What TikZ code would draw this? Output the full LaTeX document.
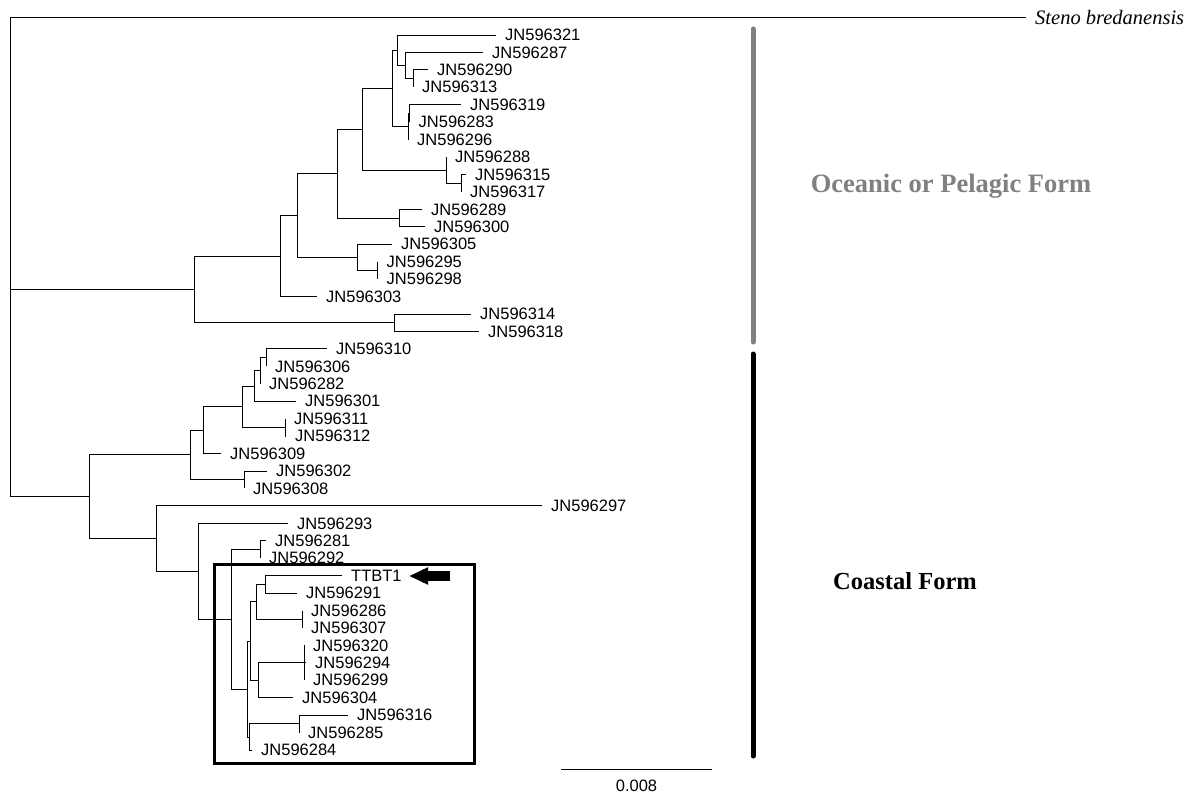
\documentclass[tikz,border=0pt]{standalone}
\usepackage{fontspec}
\setmainfont{Liberation Serif}
\newfontfamily\labelfont{Liberation Sans}
\usetikzlibrary{arrows.meta}

\begin{document}
\begin{tikzpicture}[x=1pt,y=-1pt]
        % Styles
        \tikzstyle{branch}=[line width=0.9pt]
        \tikzstyle{leaf}=[anchor=west,inner xsep=9pt,inner ysep=0pt,font=\labelfont\fontsize{16.5}{19}\selectfont]
        \tikzstyle{outgroup}=[anchor=west,inner xsep=9pt,inner ysep=0pt,font=\itshape\fontsize{20.5}{24}\selectfont]
        \tikzstyle{form text}=[font=\bfseries\fontsize{24.5}{28}\selectfont]
        \tikzstyle{form bar}=[line width=5pt,line cap=round]
        \tikzstyle{pointer}=[line width=10pt,-{Triangle[length=19pt,width=16pt]}]
        %frame of the page
        \fill[white] (0,0) rectangle (1194,794);
        \useasboundingbox (0,0) rectangle (1194,794);
        %leaves
        \foreach \id/\tx/\row in {596321/496/0,596287/483/1,596290/428/2,596313/413/3,596319/461/4,
            596283/409.5/5,596296/408/6,596288/446/7,596315/466/8,596317/461/9,596289/422/10,
            596300/425/11,596305/392/12,596295/377.5/13,596298/377.5/14,596303/317/15,596314/471/16,
            596318/479/17,596310/327/18,596306/266/19,596282/260/20,596301/296/21,596311/285/22,
            596312/286/23,596309/221/24,596302/267/25,596308/244/26,596297/542/27,596293/288/28,
            596281/266/29,596292/260/30,596291/297/32,596286/302/33,596307/302/34,596320/304/35,
            596294/306/36,596299/304/37,596304/293/38,596316/348/39,596285/299/40,596284/252/41}
            \node[leaf] (t\id) at (\tx,{35+17.44*\row}) {JN\id};
        \node[leaf] (ttbt1) at (342,{35+17.44*31}) {TTBT1};
        \node[outgroup] (steno) at (1026,17) {Steno bredanensis};
        %inner nodes
        \coordinate (r) at (10,289.4);
        \coordinate (oc) at (194,289.4);
        \coordinate (ocA) at (280,256);
        \coordinate (ocB) at (297,215.5);
        \coordinate (ocC) at (337,173.7);
        \coordinate (ocD) at (357,257.4);
        \coordinate (ocE) at (377.5,270.45);
        \coordinate (ocF) at (362,129.3);
        \coordinate (ocG) at (399,218.1);
        \coordinate (ocH) at (392,88.4);
        \coordinate (ocI) at (446,170.2);
        \coordinate (ocJ) at (461,183.25);
        \coordinate (ocK) at (397,50.25);
        \coordinate (ocL) at (408,126.6);
        \coordinate (ocL2) at (409.5,113.5);
        \coordinate (ocM) at (405,65.5);
        \coordinate (ocN) at (413,78.6);
        \coordinate (ocP) at (394,322.8);
        \coordinate (co) at (89,496.8);
        \coordinate (coP) at (190,454.9);
        \coordinate (coQ) at (203,430.1);
        \coordinate (coR) at (244,479.7);
        \coordinate (coS) at (242,406.7);
        \coordinate (coT) at (254,386);
        \coordinate (coU) at (285,427.4);
        \coordinate (coV) at (260,370.7);
        \coordinate (coW) at (266,357.6);
        \coordinate (coX) at (156,538.6);
        \coordinate (coY) at (198,571.3);
        \coordinate (coZ) at (231,619.3);
        \coordinate (coZa) at (260,549.5);
        \coordinate (coAA) at (247,689);
        \coordinate (coGG) at (250,641);
        \coordinate (coHH) at (256,601.8);
        \coordinate (coJJ) at (265,584.4);
        \coordinate (coKK) at (302,619.2);
        \coordinate (coII) at (258,680.3);
        \coordinate (coFF) at (304,662.8);
        \coordinate (coCC) at (249.5,737);
        \coordinate (coDD) at (299,723.9);
        %branches
        \foreach \p/\c in {r/steno.west,r/oc,r/co,
            oc/ocA,oc/ocP,ocP/t596314.west,ocP/t596318.west,
            ocA/ocB,ocA/t596303.west,ocB/ocC,ocB/ocD,ocD/t596305.west,ocD/ocE,
            ocE/t596295.west,ocE/t596298.west,ocC/ocF,ocC/ocG,ocG/t596289.west,ocG/t596300.west,
            ocF/ocH,ocF/ocI,ocI/t596288.west,ocI/ocJ,ocJ/t596315.west,ocJ/t596317.west,
            ocH/ocK,ocH/ocL,ocK/t596321.west,ocK/ocM,ocM/t596287.west,ocM/ocN,
            ocN/t596290.west,ocN/t596313.west,ocL/ocL2,ocL/t596296.west,ocL2/t596319.west,ocL2/t596283.west,
            co/coP,co/coX,coP/coQ,coP/coR,coR/t596302.west,coR/t596308.west,
            coQ/coS,coQ/t596309.west,coS/coT,coS/coU,coU/t596311.west,coU/t596312.west,
            coT/coV,coT/t596301.west,coV/coW,coV/t596282.west,coW/t596310.west,coW/t596306.west,
            coX/t596297.west,coX/coY,coY/t596293.west,coY/coZ,coZ/coZa,coZ/coAA,
            coZa/t596281.west,coZa/t596292.west,coAA/coGG,coAA/coCC,coGG/coHH,coGG/coII,
            coHH/coJJ,coHH/coKK,coJJ/ttbt1.west,coJJ/t596291.west,coKK/t596286.west,coKK/t596307.west,
            coII/coFF,coII/t596304.west,coFF/t596320.west,coFF/t596294.west,coFF/t596299.west,
            coCC/coDD,coCC/t596284.west,coDD/t596316.west,coDD/t596285.west}
            \draw[branch] (\p) |- (\c);
        %box and pointer
        \draw[line width=3pt] (214.5,564) rectangle (474,763);
        \coordinate (ptr) at (450,576);
        \coordinate (ptr tip) at (409,576);
        \draw[pointer] (ptr) -- (ptr tip);
        %forms
        \draw[form bar,gray] (753,29) -- (753,342);
        \draw[form bar] (753,354) -- (753,756);
        \node[form text,gray,font=\bfseries\fontsize{26.5}{30}\selectfont] (oceanic) at (951,186) {Oceanic or Pelagic Form};
        \node[form text] (coastal) at (905,581) {Coastal Form};
        %scale
        \coordinate (scale left) at (561,769);
        \coordinate (scale right) at (712,769);
        \draw[branch] (scale left) -- (scale right);
        \node[font=\labelfont\fontsize{16.5}{19}\selectfont] (scale text) at (636.5,786) {0.008};
\end{tikzpicture}
\end{document}
